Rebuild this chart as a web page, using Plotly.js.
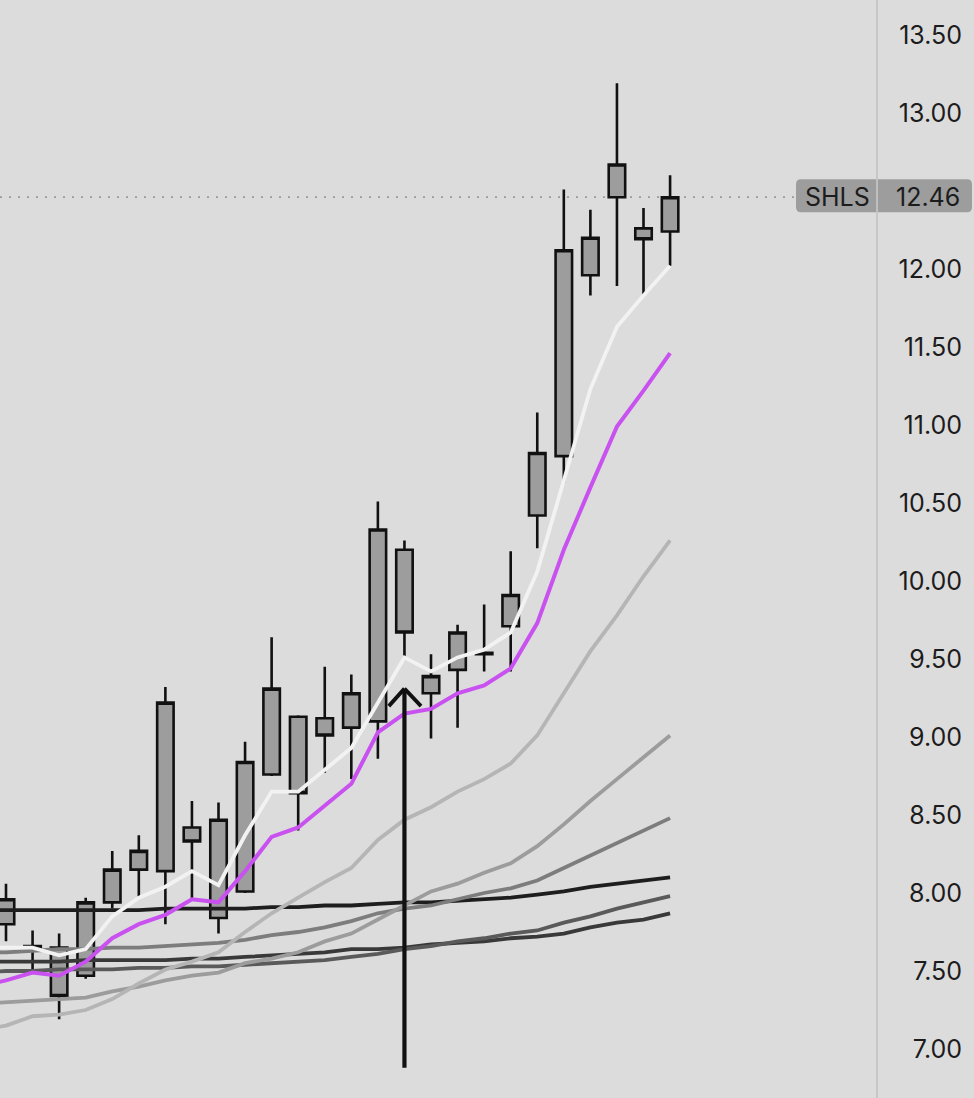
<!DOCTYPE html>
<html>
<head>
<meta charset="utf-8">
<script src="https://cdn.plot.ly/plotly-3.0.1.min.js"></script>
<style>
html,body{margin:0;padding:0;background:#dcdcdc;overflow:hidden;}
#chart{width:974px;height:1098px;}
</style>
</head>
<body>
<div id="chart"></div>
<script>
// ---------- data ----------
const ticker = 'SHLS';

const candleOpen  = [7.80, 7.65, 7.65, 7.47, 7.94, 8.15, 8.14, 8.42, 7.84, 8.01, 8.76, 9.13, 9.12, 9.06, 9.10, 10.20, 9.28, 9.43, 9.53, 9.71, 10.42, 10.80, 11.96, 12.46, 12.26, 12.24];
const candleHigh  = [8.06, 7.76, 7.74, 7.97, 8.27, 8.37, 9.32, 8.59, 8.58, 8.97, 9.64, 9.14, 9.45, 9.40, 10.51, 10.26, 9.53, 9.72, 9.85, 10.19, 11.08, 12.51, 12.38, 13.19, 12.39, 12.60];
const candleLow   = [7.69, 7.50, 7.19, 7.45, 7.90, 7.97, 7.80, 7.96, 7.74, 8.00, 8.75, 8.40, 8.77, 8.73, 8.86, 9.51, 8.99, 9.06, 9.42, 9.42, 10.21, 10.63, 11.83, 11.89, 11.83, 12.02];
const candleClose = [7.96, 7.66, 7.34, 7.94, 8.15, 8.27, 9.22, 8.33, 8.47, 8.84, 9.31, 8.64, 9.01, 9.28, 10.33, 9.67, 9.39, 9.67, 9.54, 9.91, 10.82, 12.12, 12.20, 12.67, 12.19, 12.46];

// moving averages: one extra value for the session before the first visible candle
const maWhite   = [7.65, 7.65, 7.65, 7.60, 7.64, 7.85, 7.97, 8.04, 8.14, 8.05, 8.37, 8.65, 8.65, 8.79, 8.93, 9.22, 9.51, 9.42, 9.51, 9.56, 9.67, 10.06, 10.64, 11.23, 11.63, 11.83, 12.02];
const maMagenta = [7.40, 7.44, 7.49, 7.47, 7.56, 7.71, 7.80, 7.86, 7.96, 7.94, 8.14, 8.36, 8.42, 8.56, 8.70, 9.03, 9.15, 9.18, 9.28, 9.33, 9.44, 9.73, 10.20, 10.60, 10.99, 11.22, 11.46];
const maLight   = [7.12, 7.15, 7.21, 7.22, 7.25, 7.32, 7.42, 7.51, 7.56, 7.62, 7.75, 7.87, 7.97, 8.07, 8.16, 8.34, 8.47, 8.55, 8.65, 8.73, 8.83, 9.01, 9.28, 9.55, 9.78, 10.03, 10.26];
const maMid     = [7.29, 7.30, 7.31, 7.32, 7.33, 7.37, 7.40, 7.44, 7.47, 7.49, 7.55, 7.58, 7.62, 7.69, 7.74, 7.83, 7.92, 8.01, 8.06, 8.13, 8.19, 8.30, 8.44, 8.59, 8.73, 8.87, 9.01];
const maGray    = [7.62, 7.62, 7.63, 7.64, 7.64, 7.65, 7.65, 7.66, 7.67, 7.68, 7.70, 7.73, 7.75, 7.78, 7.82, 7.87, 7.90, 7.92, 7.96, 8.00, 8.03, 8.08, 8.16, 8.24, 8.32, 8.40, 8.48];
const maBlack   = [7.89, 7.89, 7.89, 7.89, 7.89, 7.89, 7.89, 7.90, 7.90, 7.90, 7.90, 7.91, 7.91, 7.92, 7.92, 7.93, 7.94, 7.94, 7.95, 7.96, 7.97, 7.99, 8.01, 8.04, 8.06, 8.08, 8.10];
const maDarkA   = [7.49, 7.50, 7.50, 7.51, 7.51, 7.51, 7.52, 7.52, 7.53, 7.53, 7.54, 7.55, 7.56, 7.57, 7.59, 7.61, 7.64, 7.66, 7.69, 7.71, 7.74, 7.76, 7.81, 7.85, 7.90, 7.94, 7.98];
const maDarkB   = [7.56, 7.56, 7.56, 7.56, 7.57, 7.57, 7.57, 7.57, 7.58, 7.58, 7.59, 7.60, 7.61, 7.62, 7.64, 7.64, 7.65, 7.67, 7.68, 7.69, 7.71, 7.72, 7.74, 7.78, 7.81, 7.83, 7.87];

const priceTicks = [7.00, 7.50, 8.00, 8.50, 9.00, 9.50, 10.00, 10.50, 11.00, 11.50, 12.00, 13.00, 13.50];

// signal arrow (session index, tip price, tail price)
const signalSession = 15;
const signalTip = 9.31;
const signalTail = 6.87;

// ---------- build ----------
const candleX = candleClose.map((_, i) => i);
const maX = maWhite.map((_, i) => i - 1);
const lastClose = candleClose[candleClose.length - 1];

function maTrace(values, color, width) {
  return {type: 'scatter', mode: 'lines', x: maX, y: values,
          line: {color: color, width: width}, hoverinfo: 'skip', showlegend: false};
}

const traces = [
  maTrace(maBlack,   '#1e1e1e', 3.8),
  maTrace(maDarkB,   '#393939', 3.8),
  maTrace(maDarkA,   '#5a5a5a', 3.8),
  maTrace(maGray,    '#7d7d7d', 3.8),
  maTrace(maMid,     '#9c9c9c', 3.8),
  maTrace(maLight,   '#b5b5b5', 3.8),
  maTrace(maWhite,   '#f2f2f2', 3.8),
  maTrace(maMagenta, '#c851ef', 4),
  {
    type: 'candlestick', x: candleX,
    open: candleOpen, high: candleHigh, low: candleLow, close: candleClose,
    increasing: {line: {color: '#111111', width: 2.6}, fillcolor: '#9d9d9d'},
    decreasing: {line: {color: '#111111', width: 2.6}, fillcolor: '#9d9d9d'},
    whiskerwidth: 0, hoverinfo: 'skip', showlegend: false
  }
];

const plotRight = 877 / 974;
const txtFont = {family: 'Inter, "Noto Sans", sans-serif', size: 25, color: '#1c1c1c'};

const layout = {
  width: 974, height: 1098,
  margin: {l: 0, r: 0, t: 0, b: 0, pad: 0},
  paper_bgcolor: '#dcdcdc', plot_bgcolor: '#dcdcdc',
  showlegend: false, dragmode: false, hovermode: false,
  boxgap: 0.38, boxgroupgap: 0,
  xaxis: {domain: [0, plotRight], range: [-0.226, 32.79], visible: false,
          showgrid: false, zeroline: false, rangeslider: {visible: false}, fixedrange: true},
  yaxis: {range: [6.686, 13.724], anchor: 'free', position: 962 / 974, side: 'left',
          tickmode: 'array', tickvals: priceTicks, ticktext: priceTicks.map(v => v.toFixed(2)),
          ticks: '', showgrid: false, zeroline: false, showline: false,
          tickfont: txtFont, fixedrange: true},
  shapes: [
    {type: 'line', layer: 'below', xref: 'paper', yref: 'y', x0: 0, x1: 796 / 974,
     y0: lastClose, y1: lastClose, line: {color: '#9a9a9a', width: 1.8, dash: '2px,7px'}},
    {type: 'path', layer: 'above', xref: 'paper', yref: 'y',
     xsizemode: 'pixel', xanchor: 796 / 974, ysizemode: 'pixel', yanchor: lastClose,
     path: 'M5,-15 H171 Q176,-15 176,-10 V13 Q176,18 171,18 H5 Q0,18 0,13 V-10 Q0,-15 5,-15 Z',
     fillcolor: '#9d9d9d', line: {width: 0}},
    {type: 'line', layer: 'above', xref: 'paper', yref: 'paper', x0: plotRight, x1: plotRight,
     y0: 0, y1: 1, line: {color: '#c4c4c4', width: 1.8}}
  ],
  annotations: [
    {xref: 'paper', yref: 'y', x: 837 / 974, y: lastClose, text: ticker, showarrow: false,
     xanchor: 'center', yanchor: 'middle', font: txtFont},
    {xref: 'paper', yref: 'y', x: 962 / 974, y: lastClose, text: lastClose.toFixed(2), showarrow: false,
     xanchor: 'right', yanchor: 'middle', font: txtFont},
    {xref: 'x', yref: 'y', x: signalSession, y: signalTip, axref: 'x', ayref: 'y',
     ax: signalSession, ay: signalTail, text: '', showarrow: true, arrowhead: 0,
     arrowwidth: 4.2, arrowcolor: '#111111', standoff: 0, startstandoff: 0},
    {xref: 'x', yref: 'y', x: signalSession, y: signalTip, ax: -17, ay: 19, text: '',
     showarrow: true, arrowhead: 0, arrowwidth: 3.8, arrowcolor: '#111111', standoff: 0},
    {xref: 'x', yref: 'y', x: signalSession, y: signalTip, ax: 18, ay: 19, text: '',
     showarrow: true, arrowhead: 0, arrowwidth: 3.8, arrowcolor: '#111111', standoff: 0}
  ]
};

Plotly.newPlot('chart', traces, layout, {staticPlot: true, displayModeBar: false});
</script>
</body>
</html>
